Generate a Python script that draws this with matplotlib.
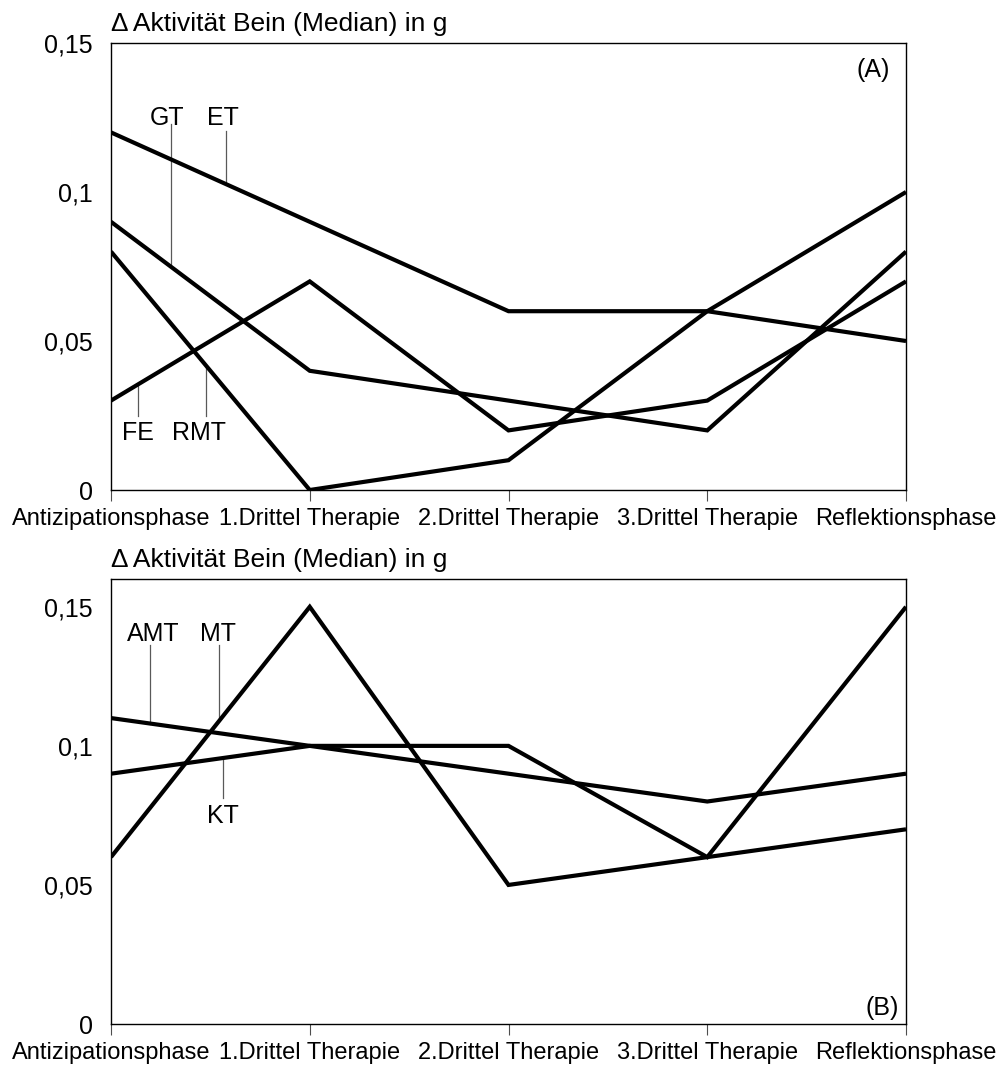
import numpy as np
import matplotlib
matplotlib.use("Agg")
import matplotlib.pyplot as plt
from matplotlib.ticker import FuncFormatter

plt.rcParams['font.family'] = ['Liberation Sans', 'DejaVu Sans']

phases = ["Antizipationsphase", "1.Drittel Therapie", "2.Drittel Therapie",
          "3.Drittel Therapie", "Reflektionsphase"]

# Panel (A)
et = [0.12, 0.09, 0.06, 0.06, 0.05]
gt = [0.09, 0.04, 0.03, 0.02, 0.08]
fe = [0.03, 0.07, 0.02, 0.03, 0.07]
rmt = [0.08, 0.00, 0.01, 0.06, 0.10]

# Panel (B)
amt = [0.11, 0.10, 0.09, 0.08, 0.09]
mt = [0.06, 0.15, 0.05, 0.06, 0.07]
kt = [0.09, 0.10, 0.10, 0.06, 0.15]

yticks = [0, 0.05, 0.1, 0.15]
title = "\u0394 Aktivit\u00e4t Bein (Median) in g"

W, H = 1000, 1067
fig = plt.figure(figsize=(W / 100, H / 100), dpi=100)


def axes_px(left, top, right, bottom):
    return fig.add_axes([left / W, 1 - bottom / H, (right - left) / W, (bottom - top) / H])


def comma_fmt(v, _):
    if abs(v) < 1e-12:
        return "0"
    return ("%g" % v).replace(".", ",")


def style(ax, ymax):
    x = np.arange(len(phases))
    ax.set_xlim(0, len(phases) - 1)
    ax.set_ylim(0, ymax)
    ax.set_xticks(x)
    ax.set_xticklabels(phases, fontsize=17)
    ax.set_yticks(yticks)
    ax.yaxis.set_major_formatter(FuncFormatter(comma_fmt))
    ax.tick_params(axis='y', length=0, pad=13, labelsize=18)
    ax.tick_params(axis='x', direction='out', length=8, width=0.8, pad=5,
                   color='0.3')
    for s in ax.spines.values():
        s.set_linewidth(1.0)
        s.set_color('black')
    ax.set_title(title, loc='left', fontsize=19, pad=8.5)


def series(ax, vals):
    ax.plot(np.arange(len(vals)), vals, color='black', lw=3.0,
            solid_joinstyle='miter', solid_capstyle='butt')


def tag(ax, text, vals, tx, ty, lx, ly):
    # label with a thin leader dropping onto its series
    ax.text(tx, ty, text, fontsize=18, ha='center', va='center')
    ly_end = np.interp(lx, np.arange(len(vals)), vals)
    ax.plot([lx, lx], [ly, ly_end], color='0.35', lw=0.9, zorder=1)


# ---- (A)
axA = axes_px(111, 43, 906, 490)
style(axA, 0.15)
for s in (et, gt, fe, rmt):
    series(axA, s)
tag(axA, "GT", gt, 0.282, 0.1248, 0.302, 0.1228)
tag(axA, "ET", et, 0.564, 0.1248, 0.579, 0.1205)
tag(axA, "FE", fe, 0.136, 0.0191, 0.136, 0.0248)
tag(axA, "RMT", rmt, 0.443, 0.0191, 0.478, 0.0248)
axA.text(0.980, 0.940, "(A)", transform=axA.transAxes, ha='right', va='center',
         fontsize=18)

# ---- (B)
axB = axes_px(111, 579, 906, 1024)
style(axB, 0.16)
for s in (amt, mt, kt):
    series(axB, s)
tag(axB, "AMT", amt, 0.211, 0.1401, 0.196, 0.1362)
tag(axB, "MT", mt, 0.538, 0.1401, 0.543, 0.1362)
tag(axB, "KT", kt, 0.564, 0.0747, 0.564, 0.0812)
axB.text(0.991, 0.036, "(B)", transform=axB.transAxes, ha='right', va='center',
         fontsize=18)

fig.savefig("out.png", dpi=100)
